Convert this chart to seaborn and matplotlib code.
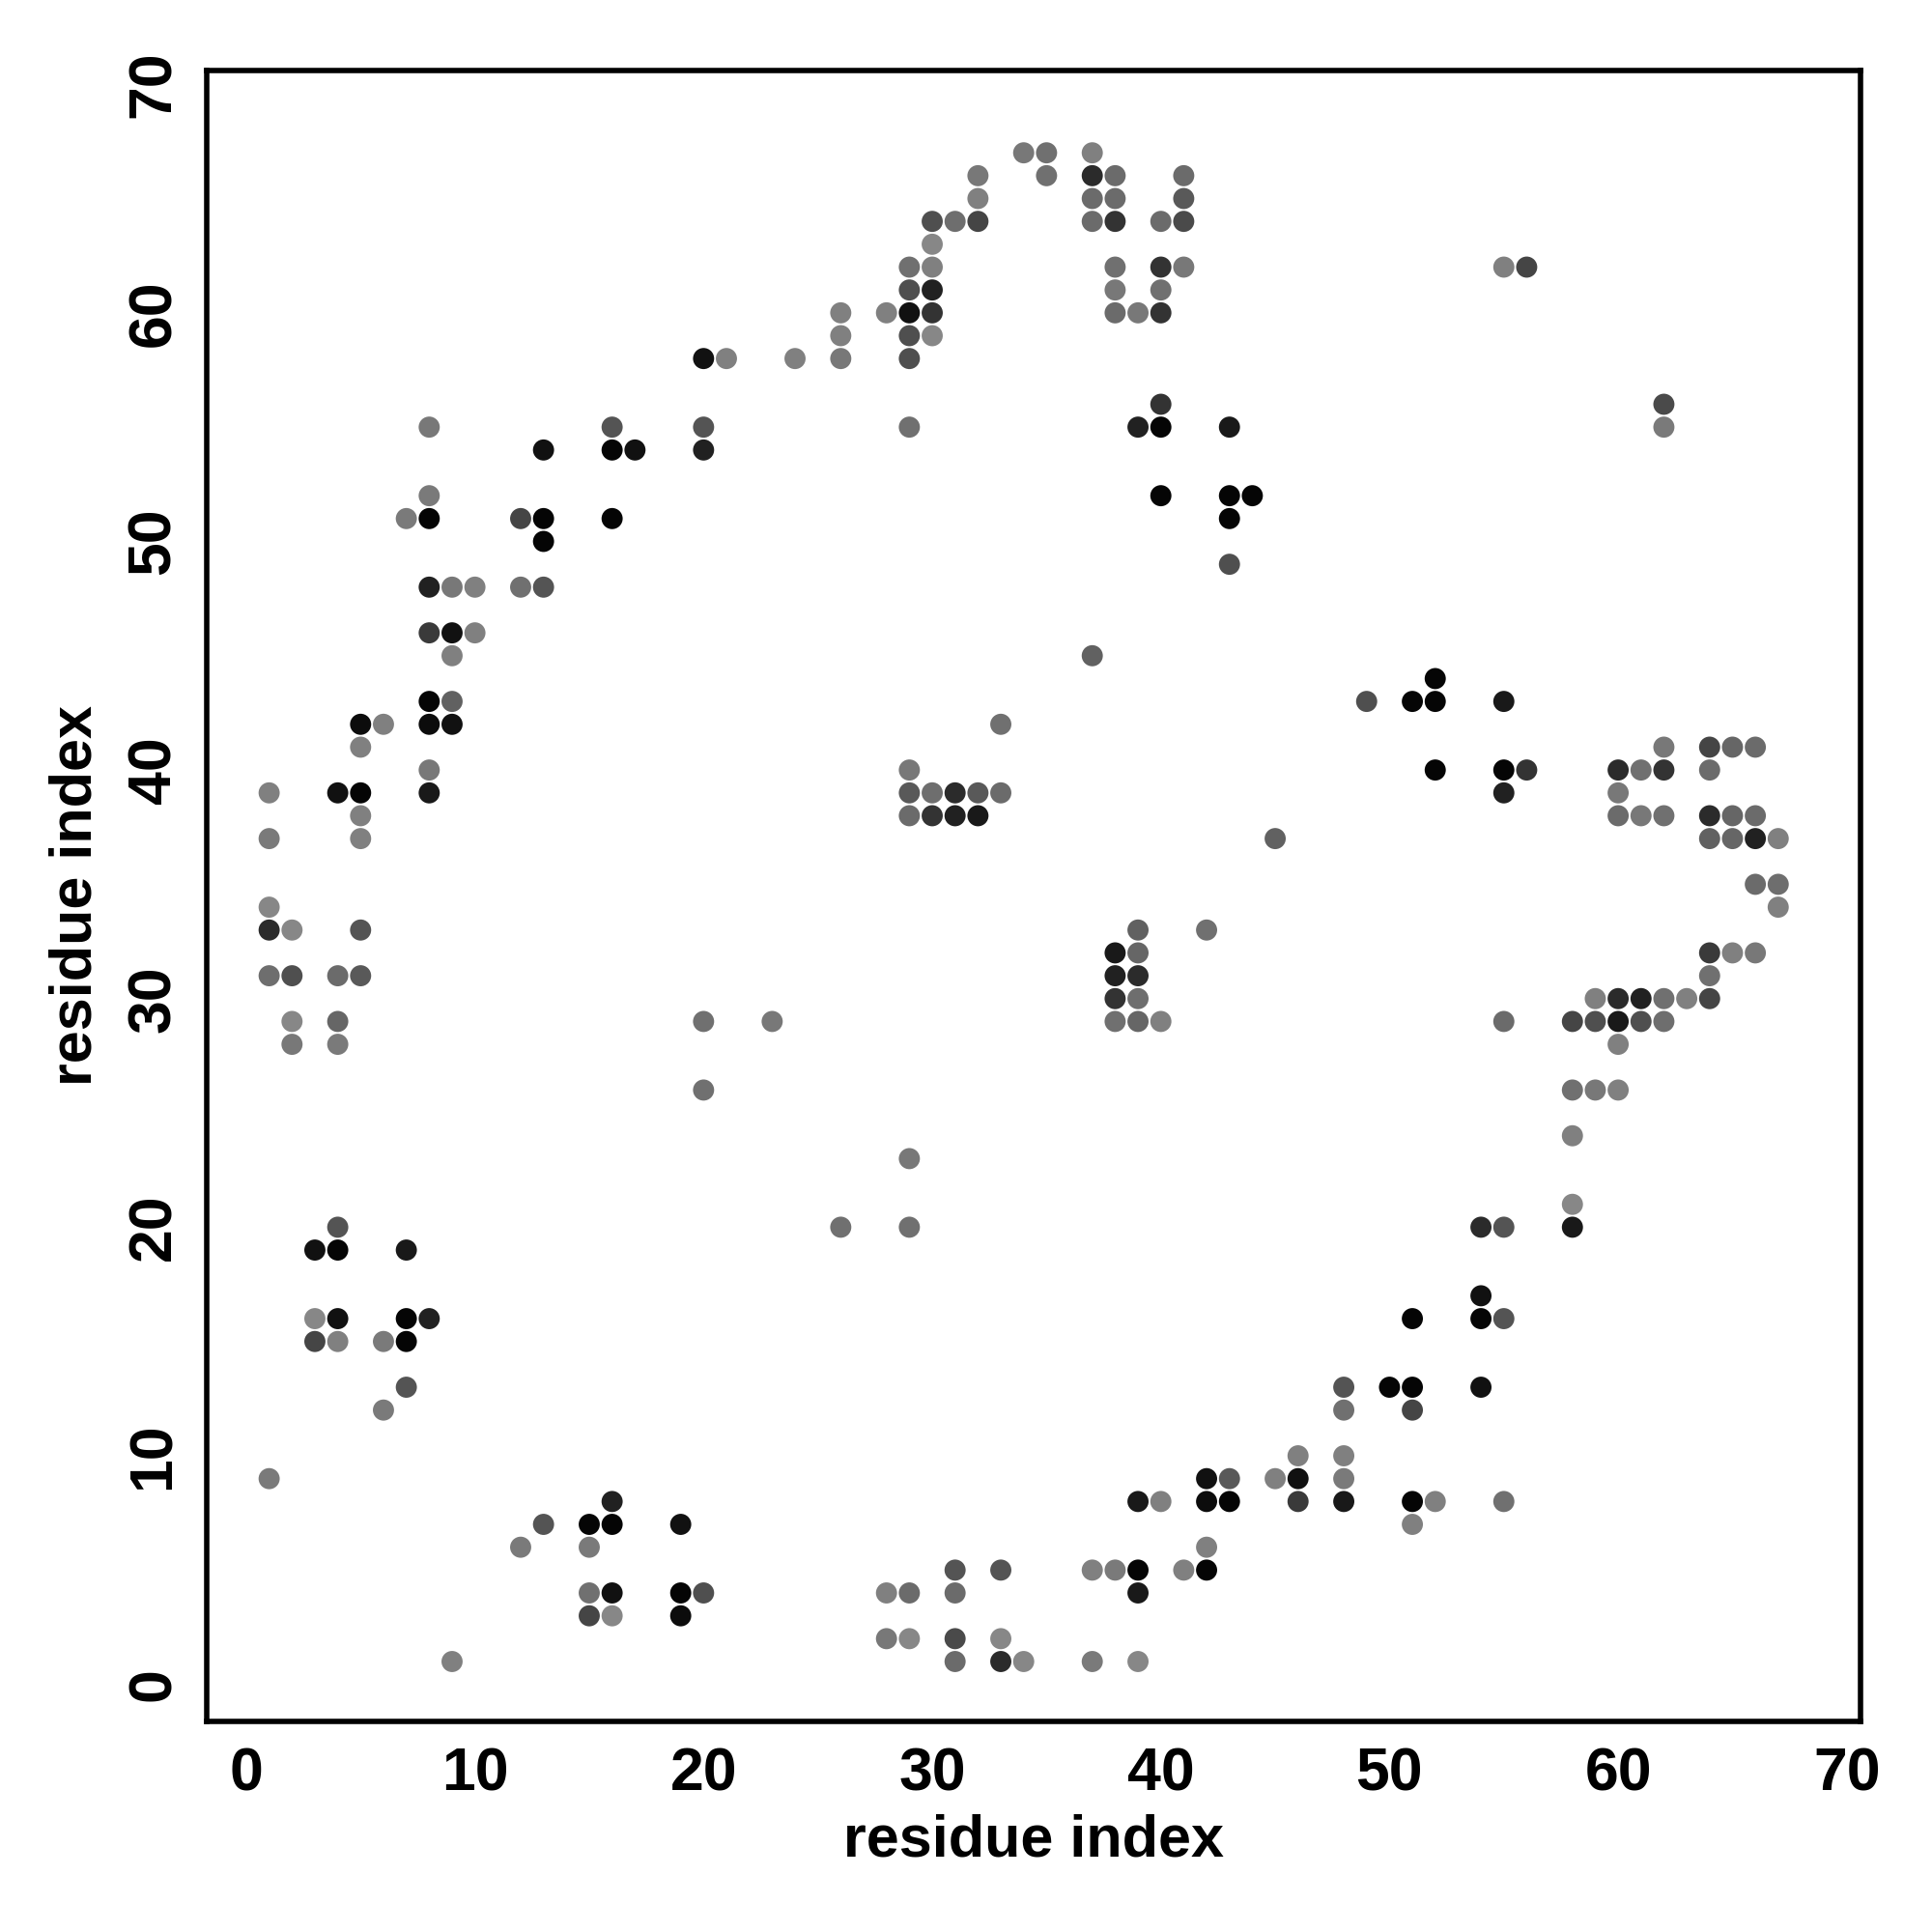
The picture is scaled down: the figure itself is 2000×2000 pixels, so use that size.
#!/usr/bin/env python3
"""
Residue contact map: residue index vs residue index,
points shaded by contact strength (darker = stronger)
"""

import pandas as pd
import matplotlib.pyplot as plt
import seaborn as sns

# residue pairs (i on x, j on y), grouped roughly by region
res_i = [
    # upper-left arm
    8, 13, 16, 16, 17, 8, 7, 8, 12, 13, 13, 16,
    8, 9, 10, 12, 13, 8, 9, 10, 9, 8, 9, 5, 6, 8, 9, 5, 8,
    1, 4, 5, 8, 5, 1, 5, 1, 1, 2, 5, 1, 2, 4, 5, 2, 4, 2, 4,
    # lower-left
    4, 3, 4, 7, 3, 4, 7, 8, 3, 4, 6, 7, 7, 6, 1,
    16, 13, 15, 16, 12, 15, 15, 16, 15, 16, 9, 19, 19, 20, 19,
    # bottom middle
    26, 29, 31, 33, 28, 29, 31, 28, 29, 31, 33, 31, 33, 34,
    # bottom right
    51, 48, 50, 51, 48, 51, 46, 48,
    42, 43, 45, 46, 48, 39, 40, 42, 43, 46, 48, 51, 52, 51, 42,
    37, 38, 39, 41, 42, 39, 37, 39,
    58, 54, 55, 58, 54, 54, 55, 54, 55,
    # top
    34, 35, 37, 32, 35, 37, 38, 41, 32, 37, 38, 41,
    30, 31, 32, 37, 38, 40, 41, 30,
    29, 30, 38, 40, 41, 55, 56, 29, 30, 38, 40,
    26, 28, 29, 30, 38, 39, 40, 26, 29, 30,
    20, 21, 24, 26, 29, 40, 62,
    20, 29, 39, 40, 43, 62, 20, 40, 43, 44, 43, 43,
    # middle
    37, 52, 49, 51, 52, 55, 33,
    62, 64, 65, 66,
    29, 52, 55, 56, 60, 61, 62, 64,
    29, 30, 31, 32, 33, 55, 60,
    29, 30, 31, 32, 60, 61, 62, 64, 65, 66,
    45, 64, 65, 66, 67, 66, 67, 67,
    39, 42, 38, 39, 64, 65, 66, 38, 39, 64,
    38, 39, 59, 60, 61, 62, 63, 64,
    20, 23, 38, 39, 40, 55, 58, 59, 60, 61, 62,
    60, 20, 58, 59, 60, 58, 29,
]

res_j = [
    55, 54, 55, 54, 54, 52, 51, 51, 51, 51, 50, 51,
    48, 48, 48, 48, 48, 46, 46, 46, 45, 43, 43, 42, 42, 42, 42, 41, 40,
    39, 39, 39, 39, 38, 37, 37, 34, 33, 33, 33, 31, 31, 31, 31, 29, 29, 28, 28,
    20, 19, 19, 19, 16, 16, 16, 16, 15, 15, 15, 15, 13, 12, 9,
    8, 7, 7, 7, 6, 6, 4, 4, 3, 3, 1, 7, 4, 4, 3,
    20, 20, 5, 5, 4, 4, 4, 2, 2, 2, 2, 1, 1, 1,
    16, 13, 13, 13, 12, 12, 10, 10,
    9, 9, 9, 9, 9, 8, 8, 8, 8, 8, 8, 8, 8, 7, 6,
    5, 5, 5, 5, 5, 4, 1, 1,
    21, 20, 20, 20, 17, 16, 16, 13, 8,
    67, 67, 67, 66, 66, 66, 66, 66, 65, 65, 65, 65,
    64, 64, 64, 64, 64, 64, 64, 63,
    62, 62, 62, 62, 62, 62, 62, 61, 61, 61, 61,
    60, 60, 60, 60, 60, 60, 60, 59, 59, 59,
    58, 58, 58, 58, 58, 56, 56,
    55, 55, 55, 55, 55, 55, 54, 52, 52, 52, 51, 49,
    45, 44, 43, 43, 43, 43, 42,
    41, 41, 41, 41,
    40, 40, 40, 40, 40, 40, 40, 40,
    39, 39, 39, 39, 39, 39, 39,
    38, 38, 38, 38, 38, 38, 38, 38, 38, 38,
    37, 37, 37, 37, 37, 35, 35, 34,
    33, 33, 32, 32, 32, 32, 32, 31, 31, 31,
    30, 30, 30, 30, 30, 30, 30, 30,
    29, 29, 29, 29, 29, 29, 29, 29, 29, 29, 29,
    28, 26, 26, 26, 26, 24, 23,
]

# grey level of each point (0 = black, 1 = white)
shade = [
    0.47, 0.07, 0.33, 0.02, 0.07, 0.48, 0.48, 0.02, 0.27, 0.02, 0.02, 0.02,
    0.13, 0.47, 0.50, 0.44, 0.33, 0.23, 0.07, 0.50, 0.50, 0.02, 0.38, 0.05, 0.50, 0.05, 0.07, 0.50, 0.47,
    0.50, 0.07, 0.02, 0.10, 0.50, 0.48, 0.50, 0.53, 0.17, 0.53, 0.33, 0.43, 0.31, 0.42, 0.35, 0.53, 0.40, 0.47, 0.48,
    0.33, 0.07, 0.02, 0.10, 0.53, 0.07, 0.02, 0.13, 0.27, 0.50, 0.48, 0.02, 0.33, 0.48, 0.48,
    0.13, 0.33, 0.02, 0.02, 0.48, 0.48, 0.44, 0.07, 0.27, 0.53, 0.50, 0.07, 0.02, 0.31, 0.05,
    0.44, 0.44, 0.33, 0.33, 0.50, 0.42, 0.42, 0.47, 0.53, 0.29, 0.53, 0.42, 0.17, 0.53,
    0.02, 0.33, 0.02, 0.02, 0.44, 0.27, 0.50, 0.50,
    0.07, 0.35, 0.50, 0.07, 0.48, 0.10, 0.50, 0.05, 0.02, 0.23, 0.10, 0.02, 0.50, 0.50, 0.50,
    0.50, 0.48, 0.02, 0.50, 0.02, 0.10, 0.48, 0.53,
    0.53, 0.17, 0.33, 0.10, 0.07, 0.02, 0.33, 0.07, 0.44,
    0.47, 0.44, 0.50, 0.47, 0.44, 0.17, 0.42, 0.42, 0.50, 0.42, 0.42, 0.35,
    0.31, 0.43, 0.27, 0.42, 0.20, 0.42, 0.29, 0.53,
    0.44, 0.50, 0.44, 0.20, 0.47, 0.50, 0.27, 0.31, 0.13, 0.47, 0.44,
    0.50, 0.50, 0.07, 0.20, 0.42, 0.47, 0.20, 0.50, 0.31, 0.53,
    0.07, 0.50, 0.50, 0.47, 0.31, 0.20, 0.29,
    0.33, 0.44, 0.13, 0.02, 0.10, 0.48, 0.13, 0.02, 0.02, 0.02, 0.02, 0.31,
    0.38, 0.02, 0.31, 0.02, 0.02, 0.10, 0.44,
    0.47, 0.27, 0.40, 0.42,
    0.47, 0.02, 0.02, 0.20, 0.17, 0.44, 0.20, 0.42,
    0.35, 0.43, 0.17, 0.35, 0.42, 0.13, 0.47,
    0.42, 0.20, 0.13, 0.10, 0.42, 0.47, 0.44, 0.17, 0.40, 0.42,
    0.38, 0.38, 0.40, 0.13, 0.50, 0.42, 0.43, 0.50,
    0.38, 0.44, 0.10, 0.40, 0.23, 0.50, 0.47, 0.13, 0.17, 0.44,
    0.20, 0.43, 0.50, 0.17, 0.13, 0.44, 0.50, 0.27,
    0.44, 0.47, 0.44, 0.40, 0.50, 0.42, 0.27, 0.31, 0.10, 0.31, 0.43,
    0.50, 0.44, 0.44, 0.47, 0.50, 0.50, 0.47,
]

df = pd.DataFrame({'i': res_i, 'j': res_j, 'shade': shade})

sns.set_style('white')
plt.rcParams['font.family'] = ['Liberation Sans', 'DejaVu Sans']
plt.rcParams['font.weight'] = 'bold'
plt.rcParams['text.color'] = 'black'
plt.rcParams['axes.labelcolor'] = 'black'

fig = plt.figure(figsize=(10, 10), dpi=200)
ax = fig.add_axes([0.107, 0.109, 0.856, 0.8545])

sns.scatterplot(data=df, x='i', y='j', hue='shade', palette='gray',
                hue_norm=(0, 1), s=62, linewidth=0, legend=False, ax=ax)

ax.set_xlim(-1.73, 70.6)
ax.set_ylim(-1.62, 70.6)
ax.set_xticks(range(0, 71, 10))
ax.set_yticks(range(0, 71, 10))
ax.set_yticklabels([str(v) for v in range(0, 71, 10)], rotation=90, va='center')

ax.tick_params(axis='both', direction='out', length=7, width=1.8,
               labelsize=22.5, pad=2, colors='black')
for t in ax.get_xticklabels() + ax.get_yticklabels():
    t.set_fontweight('bold')

for sp in ax.spines.values():
    sp.set_visible(True)
    sp.set_linewidth(2.0)
    sp.set_color('black')

ax.set_xlabel('residue index', fontsize=22, fontweight='bold', labelpad=4, color='black')
ax.set_ylabel('residue index', fontsize=22, fontweight='bold', labelpad=8, color='black')

fig.savefig('out.png', dpi=200, facecolor='white')
